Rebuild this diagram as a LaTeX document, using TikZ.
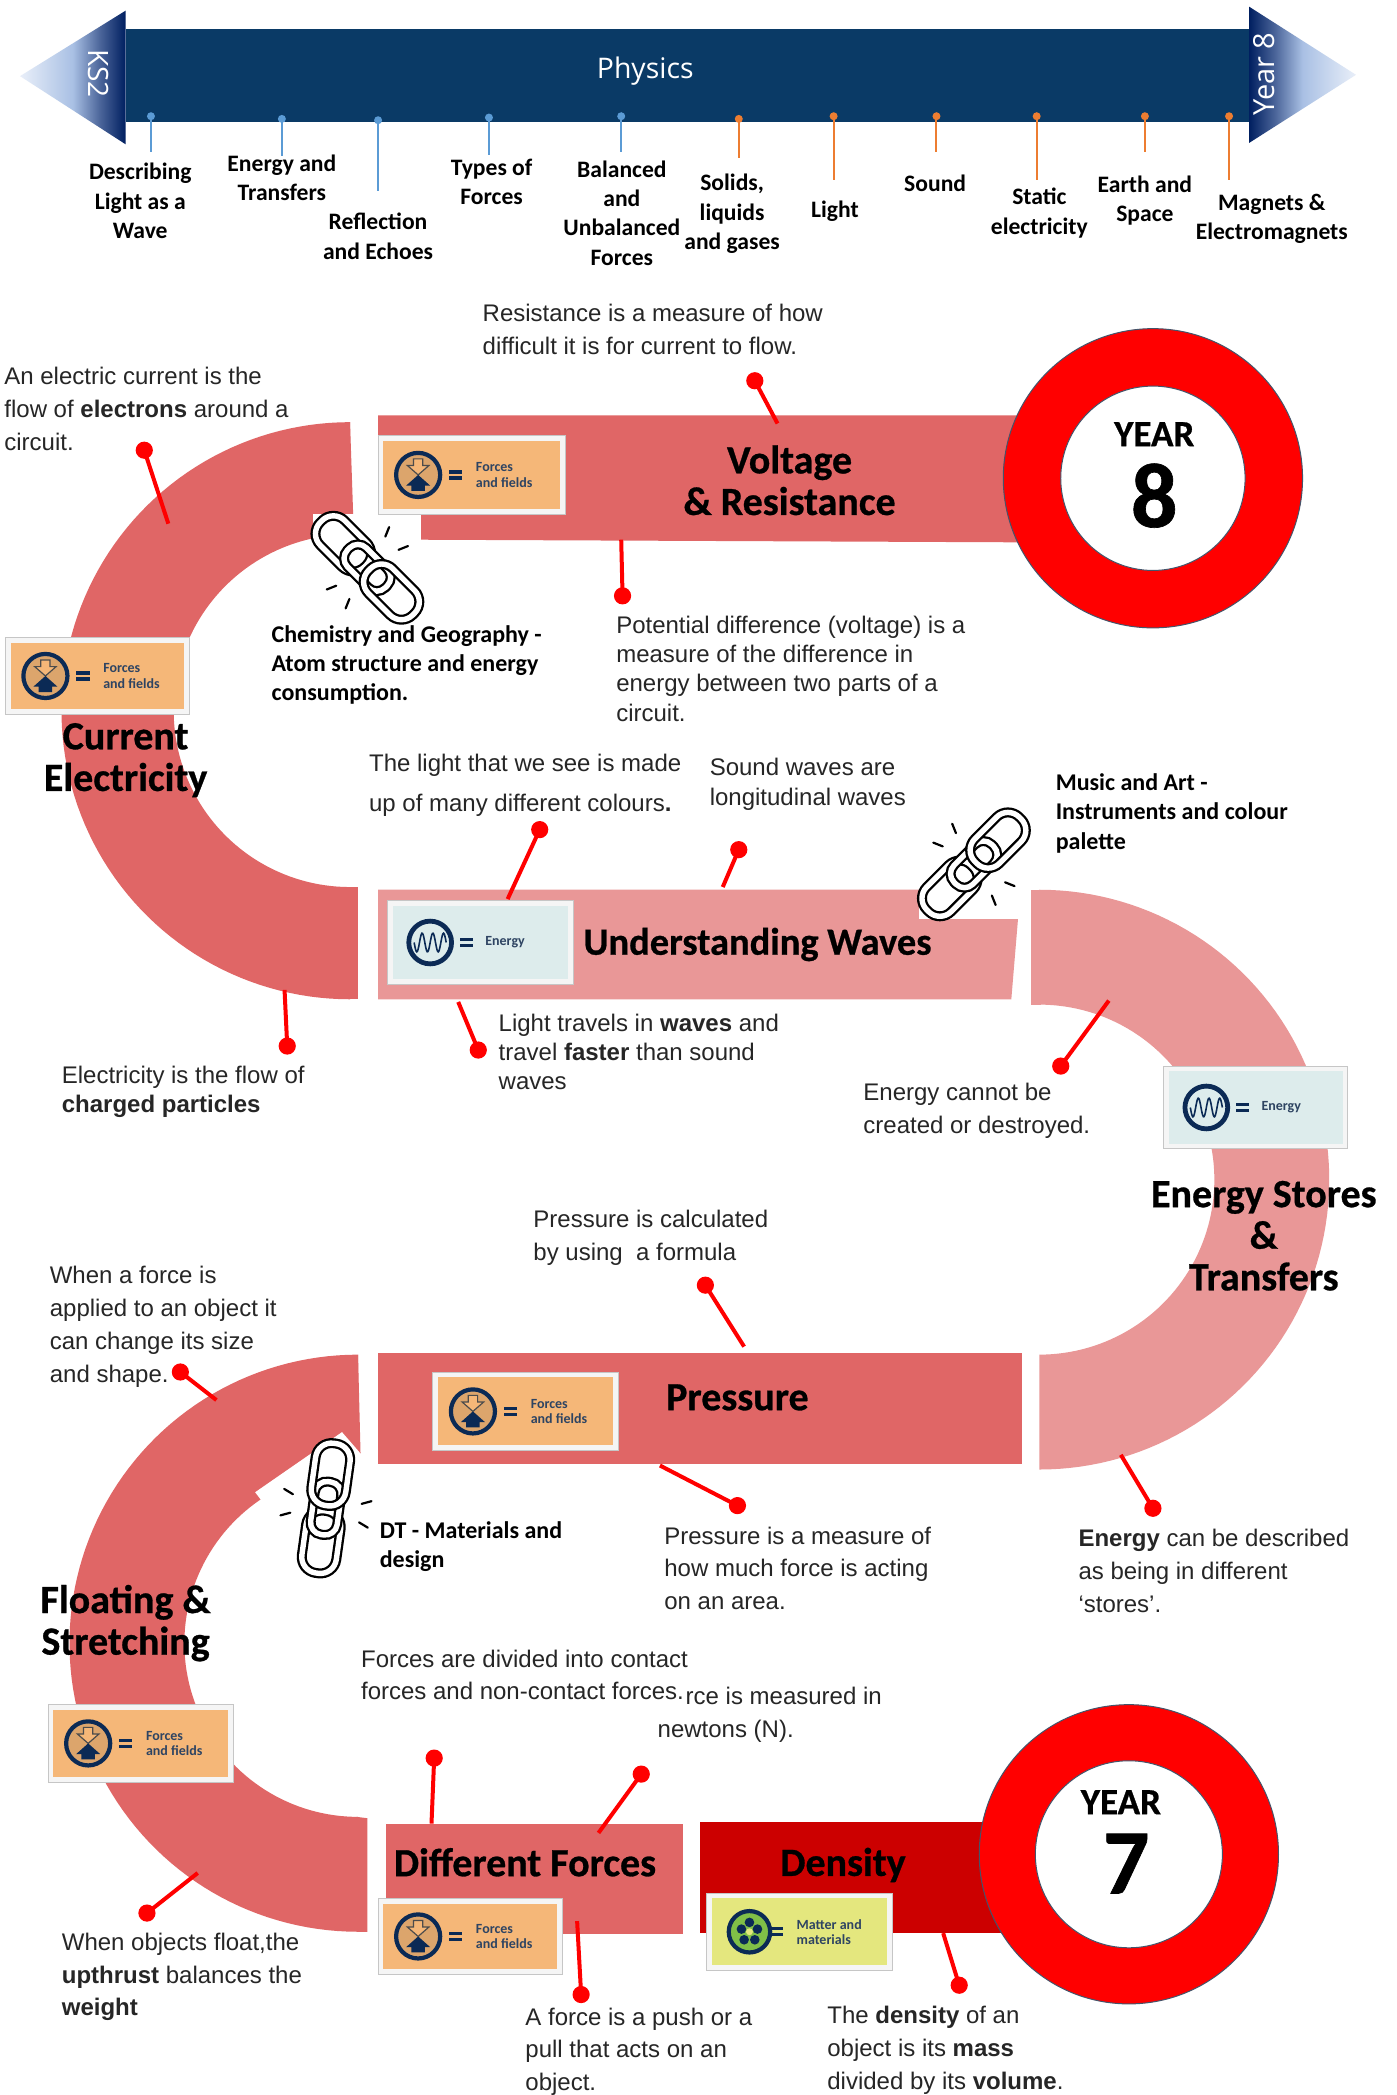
\documentclass[tikz,border=0pt]{standalone}
\usepackage{fontspec}
\setmainfont{Liberation Sans}
\newfontfamily\lblfont{Carlito}
\newfontfamily\titlefont[BoldFeatures={FakeBold=0.7}]{Carlito}
\newfontfamily\uifont{Open Sans}
\definecolor{barblue}{HTML}{0A3A66}
\definecolor{navyend}{HTML}{001F60}
\definecolor{fadelight}{HTML}{E9EFF9}
\definecolor{fademid}{HTML}{A9C0E4}
\definecolor{fadedark}{HTML}{4A6499}
\definecolor{bandred}{HTML}{E06666}
\definecolor{bandpink}{HTML}{E99797}
\definecolor{densred}{HTML}{CC0000}
\definecolor{pinblue}{HTML}{5B9BD5}
\definecolor{pinorange}{HTML}{ED7D31}
\definecolor{ringedge}{HTML}{44546A}
\definecolor{bodytxt}{HTML}{262626}
\definecolor{badgeorange}{HTML}{F5B778}
\definecolor{badgeblue}{HTML}{DDECEC}
\definecolor{badgeyellow}{HTML}{E4E77E}
\definecolor{badgenavy}{HTML}{0B2A55}
\pgfdeclarehorizontalshading{fadeleft}{100bp}{color(0bp)=(fadelight); color(25bp)=(fadelight); color(50bp)=(fademid); color(63bp)=(fadedark); color(75bp)=(navyend); color(100bp)=(navyend)}
\pgfdeclarehorizontalshading{faderight}{100bp}{color(0bp)=(navyend); color(25bp)=(navyend); color(37bp)=(fadedark); color(50bp)=(fademid); color(75bp)=(fadelight); color(100bp)=(fadelight)}
\tikzset{
  body/.style={anchor=north west,inner sep=0pt,align=left,text=bodytxt,yshift=-1.7pt,font=\fontsize{12}{16.4}\selectfont},
  bodytight/.style={body,font=\fontsize{12}{14.7}\selectfont},
  bodywide/.style={body,font=\fontsize{12}{20}\selectfont},
  crosslink/.style={anchor=north west,inner sep=0pt,align=left,text=black,yshift=-1.8pt,font=\lblfont\bfseries\fontsize{12}{14.7}\selectfont},
  toplabel/.style={anchor=center,inner sep=0pt,align=center,text=black,font=\lblfont\bfseries\fontsize{11.8}{14.7}\selectfont},
  bigtitle/.style={anchor=center,inner sep=0pt,align=center,text=black,font=\titlefont\bfseries\fontsize{20}{20.8}\selectfont},
  pinline/.style={red,line width=2pt},
  pindot/.style={circle,fill=red,inner sep=0pt,minimum size=8.6pt},
  bluepin/.style={circle,fill=pinblue,inner sep=0pt,minimum size=4pt},
  orangepin/.style={circle,fill=pinorange,inner sep=0pt,minimum size=4pt},
  chainlink/.style={draw=black,double=white,double distance=2.7pt,line width=1.15pt,rounded corners=8pt},
  sparkline/.style={black,line width=1.1pt,line cap=round},
  badgetext/.style={anchor=west,inner sep=0pt,align=left,text=badgenavy!70!gray,font=\lblfont\bfseries\fontsize{7}{7.6}\selectfont},
}
\newcommand{\arcband}[7]{% colour cx cy ro ri a1 a2
  \fill[#1] plot[domain=#6:#7,samples=90] ({#2+#4*cos(\x)},{#3-#4*sin(\x)})
    -- plot[domain=#7:#6,samples=90] ({#2+#5*cos(\x)},{#3-#5*sin(\x)}) -- cycle;}
\newcommand{\chainicon}[3]{%
  \begin{scope}[shift={(#1,#2)},rotate=#3]
    \draw[chainlink] (-49,-13) rectangle (-2,13);
    \draw[chainlink,rounded corners=6pt] (-20,-10) rectangle (20,10);
    \draw[chainlink] (2,-13) rectangle (49,13);
    \draw[sparkline] (-7,-26) -- (-10,-33);
    \draw[sparkline] (7,-26) -- (10,-33);
    \draw[sparkline] (-7,26) -- (-10,33);
    \draw[sparkline] (7,26) -- (10,33);
  \end{scope}}
\newcommand{\badgebase}[5]{% x0 y0 x1 y1 colour
  \fill[white!92!gray,draw=gray!45,line width=.5pt] (#1,#2) rectangle (#3,#4);
  \fill[#5] ({#1+4},{#2+4}) rectangle ({#3-4},{#4-4});}
\newcommand{\eqsign}[2]{%
  \fill[badgenavy] ({#1-5},{#2-3.5}) rectangle ({#1+5},{#2-1});
  \fill[badgenavy] ({#1-5},{#2+1}) rectangle ({#1+5},{#2+3.5});}
\newcommand{\forcesbadge}[5]{% name x0 y0 x1 y1
  \badgebase{#2}{#3}{#4}{#5}{badgeorange}
  \begin{scope}[shift={({#2+30},{(#3+#5)/2})}]
    \draw[badgenavy,line width=2.1pt,fill=badgeorange!90!black] (0,0) circle[radius=16.5];
    \draw[black!70,line width=.6pt,fill=badgeorange] (-3.5,-12) -- (3.5,-12) -- (3.5,-7) -- (8,-7) -- (0,0) -- (-8,-7) -- (-3.5,-7) -- cycle;
    \fill[badgenavy] (0,0) -- (9,8) -- (5,8) -- (5,12) -- (-5,12) -- (-5,8) -- (-9,8) -- cycle;
  \end{scope}
  \eqsign{#2+58}{(#3+#5)/2}
  \node[badgetext] (#1) at ({#2+73},{(#3+#5)/2}) {Forces\\and fields};}
\newcommand{\energybadge}[5]{%
  \badgebase{#2}{#3}{#4}{#5}{badgeblue}
  \begin{scope}[shift={({#2+32},{(#3+#5)/2})}]
    \draw[badgenavy,line width=2.4pt,fill=badgeblue] (0,0) circle[radius=16];
    \draw[badgenavy,line width=.8pt] plot[domain=-12:12,samples=50] (\x,{-7*sin(\x*45)});
  \end{scope}
  \eqsign{#2+59}{(#3+#5)/2}
  \node[badgetext] (#1) at ({#2+73},{(#3+#5)/2}) {Energy};}
\newcommand{\matterbadge}[5]{%
  \badgebase{#2}{#3}{#4}{#5}{badgeyellow}
  \begin{scope}[shift={({#2+32},{(#3+#5)/2})}]
    \draw[badgenavy,line width=2.1pt,fill=badgeyellow!70!green!80!black] (0,0) circle[radius=15.5];
    \fill[badgenavy] (0,-7) circle[radius=3.6] (-6,-2) circle[radius=3.6] (6,-2) circle[radius=3.6] (-4,6) circle[radius=3.6] (4,6) circle[radius=3.6];
    \fill[badgeyellow] (0,0) circle[radius=2.6];
  \end{scope}
  \eqsign{#2+52}{(#3+#5)/2}
  \node[badgetext] (#1) at ({#2+67},{(#3+#5)/2}) {Matter and\\materials};}
\newcommand{\toppin}[5]{% name style x y0 y1
  \node[#2] (#1a) at (#3,#4) {};
  \coordinate (#1b) at (#3,#5);}
\newcommand{\redpin}[3]{% name dot end
  \node[pindot] (#1a) at (#2) {};
  \coordinate (#1b) at (#3);
  \draw[pinline] (#1a.center) -- (#1b);}
\begin{document}
\begin{tikzpicture}[x=0.668pt,y=-0.668pt]
\useasboundingbox (0,0) rectangle (1045,1568.2);
\fill[white] (0,0) rectangle (1045,1568.2);

% ---- header arrow
\fill[barblue] (94,22) rectangle (936,91);
\shade[shading=fadeleft] (15,57) -- (94,8) -- (94,108) -- cycle;
\shade[shading=faderight] (935,5) -- (1015,56) -- (935,107) -- cycle;
\node[anchor=center,inner sep=0pt,text=white,font=\uifont\fontsize{14.2}{18}\selectfont] (physics) at (483,53.5) {Physics};
\node[anchor=center,inner sep=0pt,text=white,rotate=-90,font=\uifont\fontsize{14}{16}\selectfont] (ks2) at (74,55) {KS2};
\node[anchor=center,inner sep=0pt,text=white,rotate=90,font=\uifont\fontsize{14.5}{16}\selectfont] (year8) at (946,55.5) {Year 8};

% ---- timeline pins
\toppin{ta}{bluepin}{113}{87}{114}
\toppin{tb}{bluepin}{211}{89}{117}
\toppin{tc}{bluepin}{283}{90}{143}
\toppin{td}{bluepin}{366}{88}{116}
\toppin{te}{bluepin}{465}{87}{114}
\toppin{tf}{orangepin}{553}{89}{118}
\toppin{tg}{orangepin}{624}{87}{135}
\toppin{th}{orangepin}{701}{87}{114}
\toppin{ti}{orangepin}{776}{87}{135}
\toppin{tj}{orangepin}{857}{87}{114}
\toppin{tk}{orangepin}{920}{87}{135}
\foreach \n in {ta,tb,tc,td,te} \draw[pinblue,line width=1pt] (\n a.center) -- (\n b);
\foreach \n in {tf,tg,th,ti,tj,tk} \draw[pinorange,line width=1pt] (\n a.center) -- (\n b);

\node[toplabel] (la) at (105,150.5) {Describing\\Light as a\\Wave};
\node[toplabel] (lb) at (211,133) {Energy and\\Transfers};
\node[toplabel] (lc) at (283,177) {Reflection\\and Echoes};
\node[toplabel] (ld) at (368,136) {Types of\\Forces};
\node[toplabel] (le) at (465.5,159.5) {Balanced\\and\\Unbalanced\\Forces};
\node[toplabel] (lf) at (548,160) {Solids,\\liquids\\and gases};
\node[toplabel] (lg) at (625,158) {Light};
\node[toplabel] (lh) at (700,137) {Sound};
\node[toplabel] (li) at (778,159.5) {Static\\electricity};
\node[toplabel] (lj) at (857,150) {Earth and\\Space};
\node[toplabel] (lk) at (952,164) {Magnets \&\\Electromagnets};

% ---- bands
\fill[bandred] (283,311) -- (775,311) -- (775,406) -- (315,404) -- (315,385) -- (283,385) -- cycle;
\arcband{bandred}{262}{532}{216}{132}{90}{270}
\fill[bandred] (262,316) -- (265,404) -- (261,400) -- cycle;
\fill[bandred] (261,664) -- (268,664) -- (268,748) -- (261,748) -- cycle;
\fill[bandpink] (283,666) -- (700,666) -- (700,688) -- (762,688) -- (757,748) -- (283,748) -- cycle;
\arcband{bandpink}{778}{883}{217}{131}{90}{-90}
\fill[bandpink] (772,666) -- (779,666) -- (779,752) -- (772,752) -- cycle;
\fill[bandred] (283,1013) -- (765,1013) -- (765,1096) -- (283,1096) -- cycle;
\arcband{bandred}{268}{1230}{216}{130}{90}{270}
\fill[bandred] (268,1014) -- (270,1093) -- (267,1100) -- cycle;
\fill[bandred] (267,1360) -- (275,1361) -- (275,1446) -- (267,1446) -- cycle;
\fill[bandred] (289,1365) rectangle (511,1448);
\fill[densred] (524,1364) rectangle (780,1447);

% ---- chain boxes and icons
\fill[white] (234,385) rectangle (315,467);
\fill[white] (688,606) rectangle (770,688);
\fill[white] (256,1072) -- (191,1117) -- (245,1188) -- (315,1140) -- cycle;
\chainicon{275}{425}{-45}
\chainicon{729}{647}{45}
\chainicon{244}{1129}{82}

% ---- rings
\fill[red,draw=ringedge,line width=.5pt] (863,358) circle[radius=112];
\fill[white,draw=ringedge,line width=.5pt] (863,358) circle[radius=69];
\fill[red,draw=ringedge,line width=.5pt] (845,1388) circle[radius=112];
\fill[white,draw=ringedge,line width=.5pt] (845,1388) circle[radius=70];
\node[anchor=center,inner sep=0pt,font=\titlefont\bfseries\fontsize{18.5}{20}\selectfont] (yr8a) at (864,325) {YEAR};
\node[anchor=center,inner sep=0pt,font=\titlefont\bfseries\fontsize{46}{48}\selectfont] (yr8b) at (864,371) {8};
\node[anchor=center,inner sep=0pt,font=\titlefont\bfseries\fontsize{18.5}{20}\selectfont] (yr7a) at (839,1349) {YEAR};
\node[anchor=center,inner sep=0pt,font=\titlefont\bfseries\fontsize{46}{48}\selectfont] (yr7b) at (843,1395) {7};

% ---- badges
\forcesbadge{ba}{283}{326}{423}{385}
\forcesbadge{bb}{4}{477}{142}{535}
\energybadge{bc}{290}{674}{429}{737}
\energybadge{bd}{871}{798}{1009}{860}
\forcesbadge{be}{324}{1027}{463}{1086}
\forcesbadge{bf}{36}{1276}{175}{1334}
\forcesbadge{bg}{283}{1421}{421}{1478}
\matterbadge{bh}{529}{1417}{668}{1475}

% ---- red pins
\redpin{p1}{565,285}{582,317}
\redpin{p2}{108,337}{126,392}
\redpin{p3}{466,446}{465,404}
\redpin{p4}{404,621}{380,673}
\redpin{p5}{553,636}{541,664}
\redpin{p6}{215,783}{213,741}
\redpin{p7}{358,786}{343,750}
\redpin{p8}{794,798}{830,749}
\redpin{p9}{528,962}{557,1008}
\redpin{p10}{135,1027}{162,1048}
\redpin{p11}{552,1127}{494,1097}
\redpin{p12}{863,1129}{839,1089}
\redpin{p13}{110,1432}{148,1402}
\redpin{p14}{325,1316}{323,1365}
\redpin{p15}{480,1328}{448,1372}
\redpin{p16}{435,1493}{432,1438}
\redpin{p17}{718,1486}{706,1447}

% ---- titles
\node[bigtitle] (s1) at (591,359.5) {Voltage\\\& Resistance};
\node[bigtitle] (s2) at (94,569) {Current\\Electricity};
\node[bigtitle,font=\titlefont\bfseries\fontsize{19.2}{20.8}\selectfont] (s3) at (567,707) {Understanding Waves};
\node[bigtitle] (s4) at (946,925) {Energy Stores\\\&\\Transfers};
\node[bigtitle] (s5) at (552,1046) {Pressure};
\node[bigtitle] (s6) at (94,1215) {Floating \&\\Stretching};
\node[bigtitle] (s7) at (393,1394) {Different Forces};
\node[bigtitle] (s8) at (631,1396) {Density};

% ---- body texts
\node[body] (ta) at (361,225) {Resistance is a measure of how\\difficult it is for current to flow.};
\node[body] (tb) at (3,272) {An electric current is the\\flow of \textbf{electrons} around a\\circuit.};
\node[bodytight] (tc) at (461,458) {Potential difference (voltage) is a\\measure of the difference in\\energy between two parts of a\\circuit.};
\node[bodywide] (td) at (276,562) {The light that we see is made\\up of many different colours\textbf{.}};
\node[bodytight] (te) at (531,565) {Sound waves are\\longitudinal waves};
\node[crosslink] (tf) at (203,465) {Chemistry and Geography -\\Atom structure and energy\\consumption.};
\node[crosslink] (tg) at (790,576) {Music and Art -\\Instruments and colour\\palette};
\node[bodytight] (th) at (373,756) {Light travels in \textbf{waves} and\\travel \textbf{faster} than sound\\waves};
\node[bodytight] (ti) at (46,795) {Electricity is the flow of\\\textbf{charged particles}};
\node[body] (tj) at (646,808) {Energy cannot be\\created or destroyed.};
\node[body] (tk) at (399,903) {Pressure is calculated\\by using\ \ a formula};
\node[body] (tl) at (37,945) {When a force is\\applied to an object it\\can change its size\\and shape.};
\node[body] (tm) at (497,1140) {Pressure is a measure of\\how much force is acting\\on an area.};
\node[body] (tn) at (807,1142) {\textbf{Energy} can be described\\as being in different\\‘stores’.};
\node[crosslink] (to) at (284,1136) {DT - Materials and\\design};
\node[body] (tq1) at (513,1260) {rce is measured in};
\node[body] (tq2) at (492,1285) {newtons (N).};
\node[body] (tp) at (270,1232) {Forces are divided into contact\\forces and non-contact forces.};
\node[body] (tr) at (46,1444) {When objects float,the\\\textbf{upthrust} balances the\\\textbf{weight}};
\node[body] (ts) at (393,1500) {A force is a push or a\\pull that acts on an\\object.};
\node[body] (tt) at (619,1499) {The \textbf{density} of an\\object is its \textbf{mass}\\divided by its \textbf{volume}.};
\end{tikzpicture}
\end{document}
